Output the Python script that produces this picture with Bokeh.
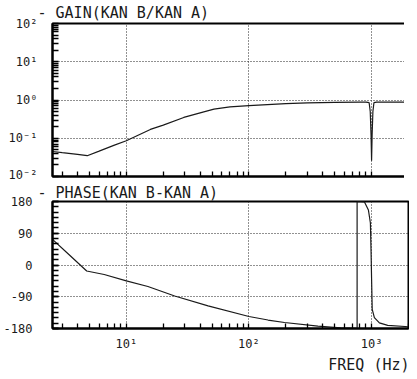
import math
from bokeh.plotting import figure
from bokeh.layouts import column
from bokeh.models import FixedTicker, Range1d, Title
from bokeh.embed import file_html
from bokeh.resources import INLINE

# ---------------- data ----------------
freq_gain = [2.5, 3, 4, 4.8, 6, 8, 10, 15.7, 20, 29.4, 40, 51.8, 70, 100,
             200, 300, 500, 800, 900, 955, 975, 990, 1000, 1010, 1025, 1045,
             1100, 1200, 2000]
gain = [0.045, 0.042, 0.038, 0.035, 0.046, 0.066, 0.086, 0.17, 0.22, 0.35,
        0.46, 0.58, 0.66, 0.71, 0.80, 0.84, 0.87, 0.88, 0.88, 0.85, 0.5,
        0.12, 0.026, 0.12, 0.5, 0.85, 0.88, 0.88, 0.88]

freq_phase = [2.5, 3.47, 4.75, 6.6, 10, 15, 24.8, 46.4, 100, 143, 195, 365,
              560, 740, 762, 762, 873, 942, 978, 990, 1000, 1012, 1054,
              1158, 1354, 2000]
phase = [72.7, 27, -17, -27, -45, -61, -88, -116, -146, -156, -163, -173,
         -178, -179.5, -180, 180, 179, 156, 119, 40, -40, -126, -149,
         -164, -171, -175]

freq_ticks = [10, 100, 1000]
freq_tick_labels = ["10¹", "10²", "10³"]
freq_minor = [3, 4, 5, 6, 7, 8, 9, 20, 30, 40, 50, 60, 70, 80, 90,
              200, 300, 400, 500, 600, 700, 800, 900, 2000]

gain_ticks = [0.01, 0.1, 1, 10, 100]
gain_tick_labels = ["10⁻²", "10⁻¹", "10⁰", "10¹", "10²"]
gain_minor = [m * 10.0 ** e for e in (-2, -1, 0, 1) for m in range(2, 10)]

phase_ticks = [-180, -90, 0, 90, 180]
phase_tick_labels = ["-180", "-90", "0", "90", "180"]
phase_minor = list(range(-180, 181, 15))

gain_title = "- GAIN(KAN B/KAN A)"
phase_title = "- PHASE(KAN B-KAN A)"
x_title = "FREQ (Hz)"

# ---------------- layout constants ----------------
FW = 356
GH = 153
PH = 127
LEFT = 44
FONT = "DejaVu Sans Mono"
INK = "#1a1a1a"
X0, X1 = 2.5, 2000


def style(p):
    p.background_fill_color = "white"
    p.border_fill_color = "white"
    p.outline_line_color = "black"
    p.outline_line_width = 2
    p.grid.grid_line_color = "#222222"
    p.grid.grid_line_dash = "1 2"
    p.grid.grid_line_width = 1
    for ax in p.axis:
        ax.axis_line_color = "black"
        ax.axis_line_width = 2
        ax.major_tick_out = 0
        ax.minor_tick_out = 0
        ax.major_tick_line_color = "black"
        ax.minor_tick_line_color = "black"
        ax.major_tick_line_width = 1.3
        ax.minor_tick_line_width = 1.3
        ax.major_label_text_font = FONT
        ax.major_label_text_font_size = "12px"
        ax.major_label_text_color = INK
        ax.major_label_text_font_style = "normal"


def style_title(t, offset, standoff):
    t.align = "left"
    t.offset = offset
    t.standoff = standoff
    t.text_font = FONT
    t.text_font_size = "15px"
    t.text_font_style = "normal"
    t.text_color = INK


# ---------------- gain figure ----------------
p1 = figure(x_axis_type="log", y_axis_type="log",
            x_range=Range1d(X0, X1), y_range=Range1d(0.01, 100),
            frame_width=FW, frame_height=GH,
            min_border_left=LEFT, min_border_right=1,
            min_border_top=23, min_border_bottom=5,
            output_backend="svg", toolbar_location=None)
style(p1)
p1.title.text = gain_title
style_title(p1.title, -15, 3)
p1.xaxis.ticker = FixedTicker(ticks=freq_ticks, minor_ticks=freq_minor)
p1.xaxis.major_label_overrides = {t: "" for t in freq_ticks}
p1.xaxis.major_label_text_font_size = "1px"
p1.xaxis.major_label_standoff = 0
p1.xaxis.major_tick_in = 5
p1.xaxis.minor_tick_in = 5
p1.yaxis.ticker = FixedTicker(ticks=gain_ticks, minor_ticks=gain_minor)
p1.yaxis.major_label_overrides = dict(zip(gain_ticks, gain_tick_labels))
p1.yaxis.major_label_standoff = 15
p1.yaxis.major_tick_in = 6
p1.yaxis.minor_tick_in = 6

p1.line(freq_gain, gain, line_color=INK, line_width=1.2)

# ---------------- phase figure ----------------
p2 = figure(x_axis_type="log",
            x_range=Range1d(X0, X1), y_range=Range1d(-180, 180),
            frame_width=FW, frame_height=PH,
            min_border_left=LEFT, min_border_right=1,
            min_border_top=20, min_border_bottom=43,
            output_backend="svg", toolbar_location=None)
style(p2)
p2.title.text = phase_title
style_title(p2.title, -15, 0)
p2.xaxis.ticker = FixedTicker(ticks=freq_ticks, minor_ticks=freq_minor)
p2.xaxis.major_label_overrides = dict(zip(freq_ticks, freq_tick_labels))
p2.xaxis.major_label_standoff = 8
p2.xaxis.major_tick_in = 5
p2.xaxis.minor_tick_in = 5
p2.yaxis.ticker = FixedTicker(ticks=phase_ticks, minor_ticks=phase_minor)
p2.yaxis.major_label_overrides = dict(zip(phase_ticks, phase_tick_labels))
p2.yaxis.major_label_standoff = 20
p2.yaxis.major_tick_in = 6
p2.yaxis.minor_tick_in = 6

p2.line(freq_phase, phase, line_color=INK, line_width=1.2)

xt = Title(text=x_title, align="right", offset=-1, standoff=0,
           text_font=FONT, text_font_size="15px", text_font_style="normal",
           text_color=INK)
p2.add_layout(xt, "below")

layout = column(p1, p2, spacing=0)
open("out.html", "w").write(file_html(layout, INLINE))
